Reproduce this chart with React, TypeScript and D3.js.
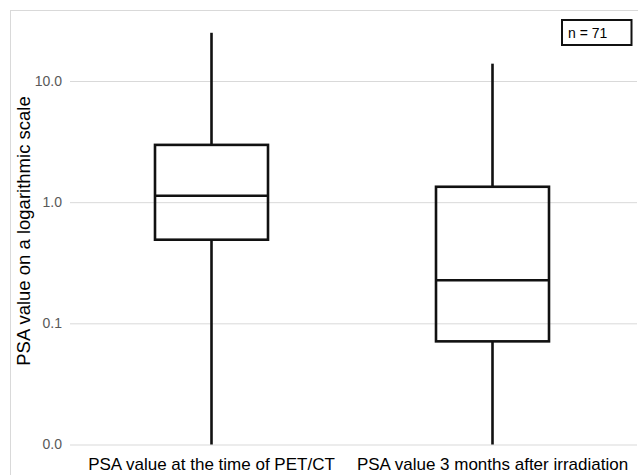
import React, { useEffect, useRef } from 'react';
import * as d3 from 'd3';

// box plot values (log scale)
const categories = ['PSA value at the time of PET/CT', 'PSA value 3 months after irradiation'];
const whiskerLow = [0.01, 0.01];
const quartile1 = [0.49, 0.071];
const medians = [1.13, 0.227];
const quartile3 = [2.97, 1.34];
const whiskerHigh = [25, 13.9];
const yTicks = [0.01, 0.1, 1, 10];
const sampleLabel = 'n = 71';
const yTitle = 'PSA value on a logarithmic scale';

const App = () => {
    const svgRef = useRef<SVGSVGElement>(null);

    useEffect(() => {
        const svg = d3.select(svgRef.current);
        svg.selectAll('*').remove();

        const W = 638;
        const H = 475;
        const margin = { top: 10, right: 1, bottom: 31, left: 70 };
        const font = 'Liberation Sans, Arial, sans-serif';

        // outer frame
        svg.append('rect')
            .attr('x', 10.5)
            .attr('y', 10.5)
            .attr('width', W - 10)
            .attr('height', H - 10)
            .attr('fill', 'white')
            .attr('stroke', '#d9d9d9')
            .attr('stroke-width', 1);

        const x = d3.scaleBand()
            .domain(categories)
            .range([71, 633]);

        const y = d3.scaleLog()
            .domain([0.01, 10])
            .range([444.5, 81]);

        // gridlines + tick labels
        const yAxis = svg.append('g')
            .attr('transform', `translate(${margin.left},0)`)
            .call(d3.axisLeft(y).tickValues(yTicks).tickFormat(d3.format('.1f')).tickSize(-(W - margin.left - margin.right)).tickPadding(8));
        yAxis.select('.domain').remove();
        yAxis.selectAll('.tick line').attr('stroke', '#d9d9d9').attr('stroke-width', 1);
        yAxis.selectAll('.tick text')
            .attr('fill', '#595959')
            .style('font-family', font)
            .style('font-size', '14px');

        // axis title
        svg.append('text')
            .attr('transform', `translate(30,${231}) rotate(-90)`)
            .attr('text-anchor', 'middle')
            .style('font-family', font)
            .style('font-size', '18.5px')
            .attr('fill', '#000')
            .text(yTitle);

        // category labels
        svg.selectAll('.cat-label')
            .data(categories)
            .enter().append('text')
            .attr('class', 'cat-label')
            .attr('x', d => x(d)! + x.bandwidth() / 2)
            .attr('y', 470)
            .attr('text-anchor', 'middle')
            .style('font-family', font)
            .style('font-size', '17px')
            .attr('fill', '#000')
            .text(d => d);

        const boxW = 113;
        const boxes = svg.selectAll('.box')
            .data(categories)
            .enter().append('g')
            .attr('class', 'box')
            .attr('transform', d => `translate(${x(d)! + x.bandwidth() / 2},0)`);

        // whiskers
        boxes.append('line')
            .attr('x1', 0).attr('x2', 0)
            .attr('y1', (d, i) => y(whiskerHigh[i]))
            .attr('y2', (d, i) => y(quartile3[i]))
            .attr('stroke', '#111').attr('stroke-width', 2.6);
        boxes.append('line')
            .attr('x1', 0).attr('x2', 0)
            .attr('y1', (d, i) => y(quartile1[i]))
            .attr('y2', (d, i) => y(whiskerLow[i]))
            .attr('stroke', '#111').attr('stroke-width', 2.6);

        // boxes
        boxes.append('rect')
            .attr('x', -boxW / 2)
            .attr('width', boxW)
            .attr('y', (d, i) => y(quartile3[i]))
            .attr('height', (d, i) => y(quartile1[i]) - y(quartile3[i]))
            .attr('fill', 'none')
            .attr('stroke', '#111')
            .attr('stroke-width', 2.6);

        // medians
        boxes.append('line')
            .attr('x1', -boxW / 2).attr('x2', boxW / 2)
            .attr('y1', (d, i) => y(medians[i]))
            .attr('y2', (d, i) => y(medians[i]))
            .attr('stroke', '#111').attr('stroke-width', 2.6);

        // n legend box
        svg.append('rect')
            .attr('x', 562)
            .attr('y', 20)
            .attr('width', 69.5)
            .attr('height', 25)
            .attr('fill', 'white')
            .attr('stroke', '#111')
            .attr('stroke-width', 2);
        svg.append('text')
            .attr('x', 568)
            .attr('y', 37.5)
            .style('font-family', font)
            .style('font-size', '14px')
            .attr('fill', '#000')
            .text(sampleLabel);
    }, []);

    return (
        <svg ref={svgRef} width={638} height={475} style={{ position: 'absolute', left: 0, top: 0, background: 'white' }} />
    );
};

export default App;
